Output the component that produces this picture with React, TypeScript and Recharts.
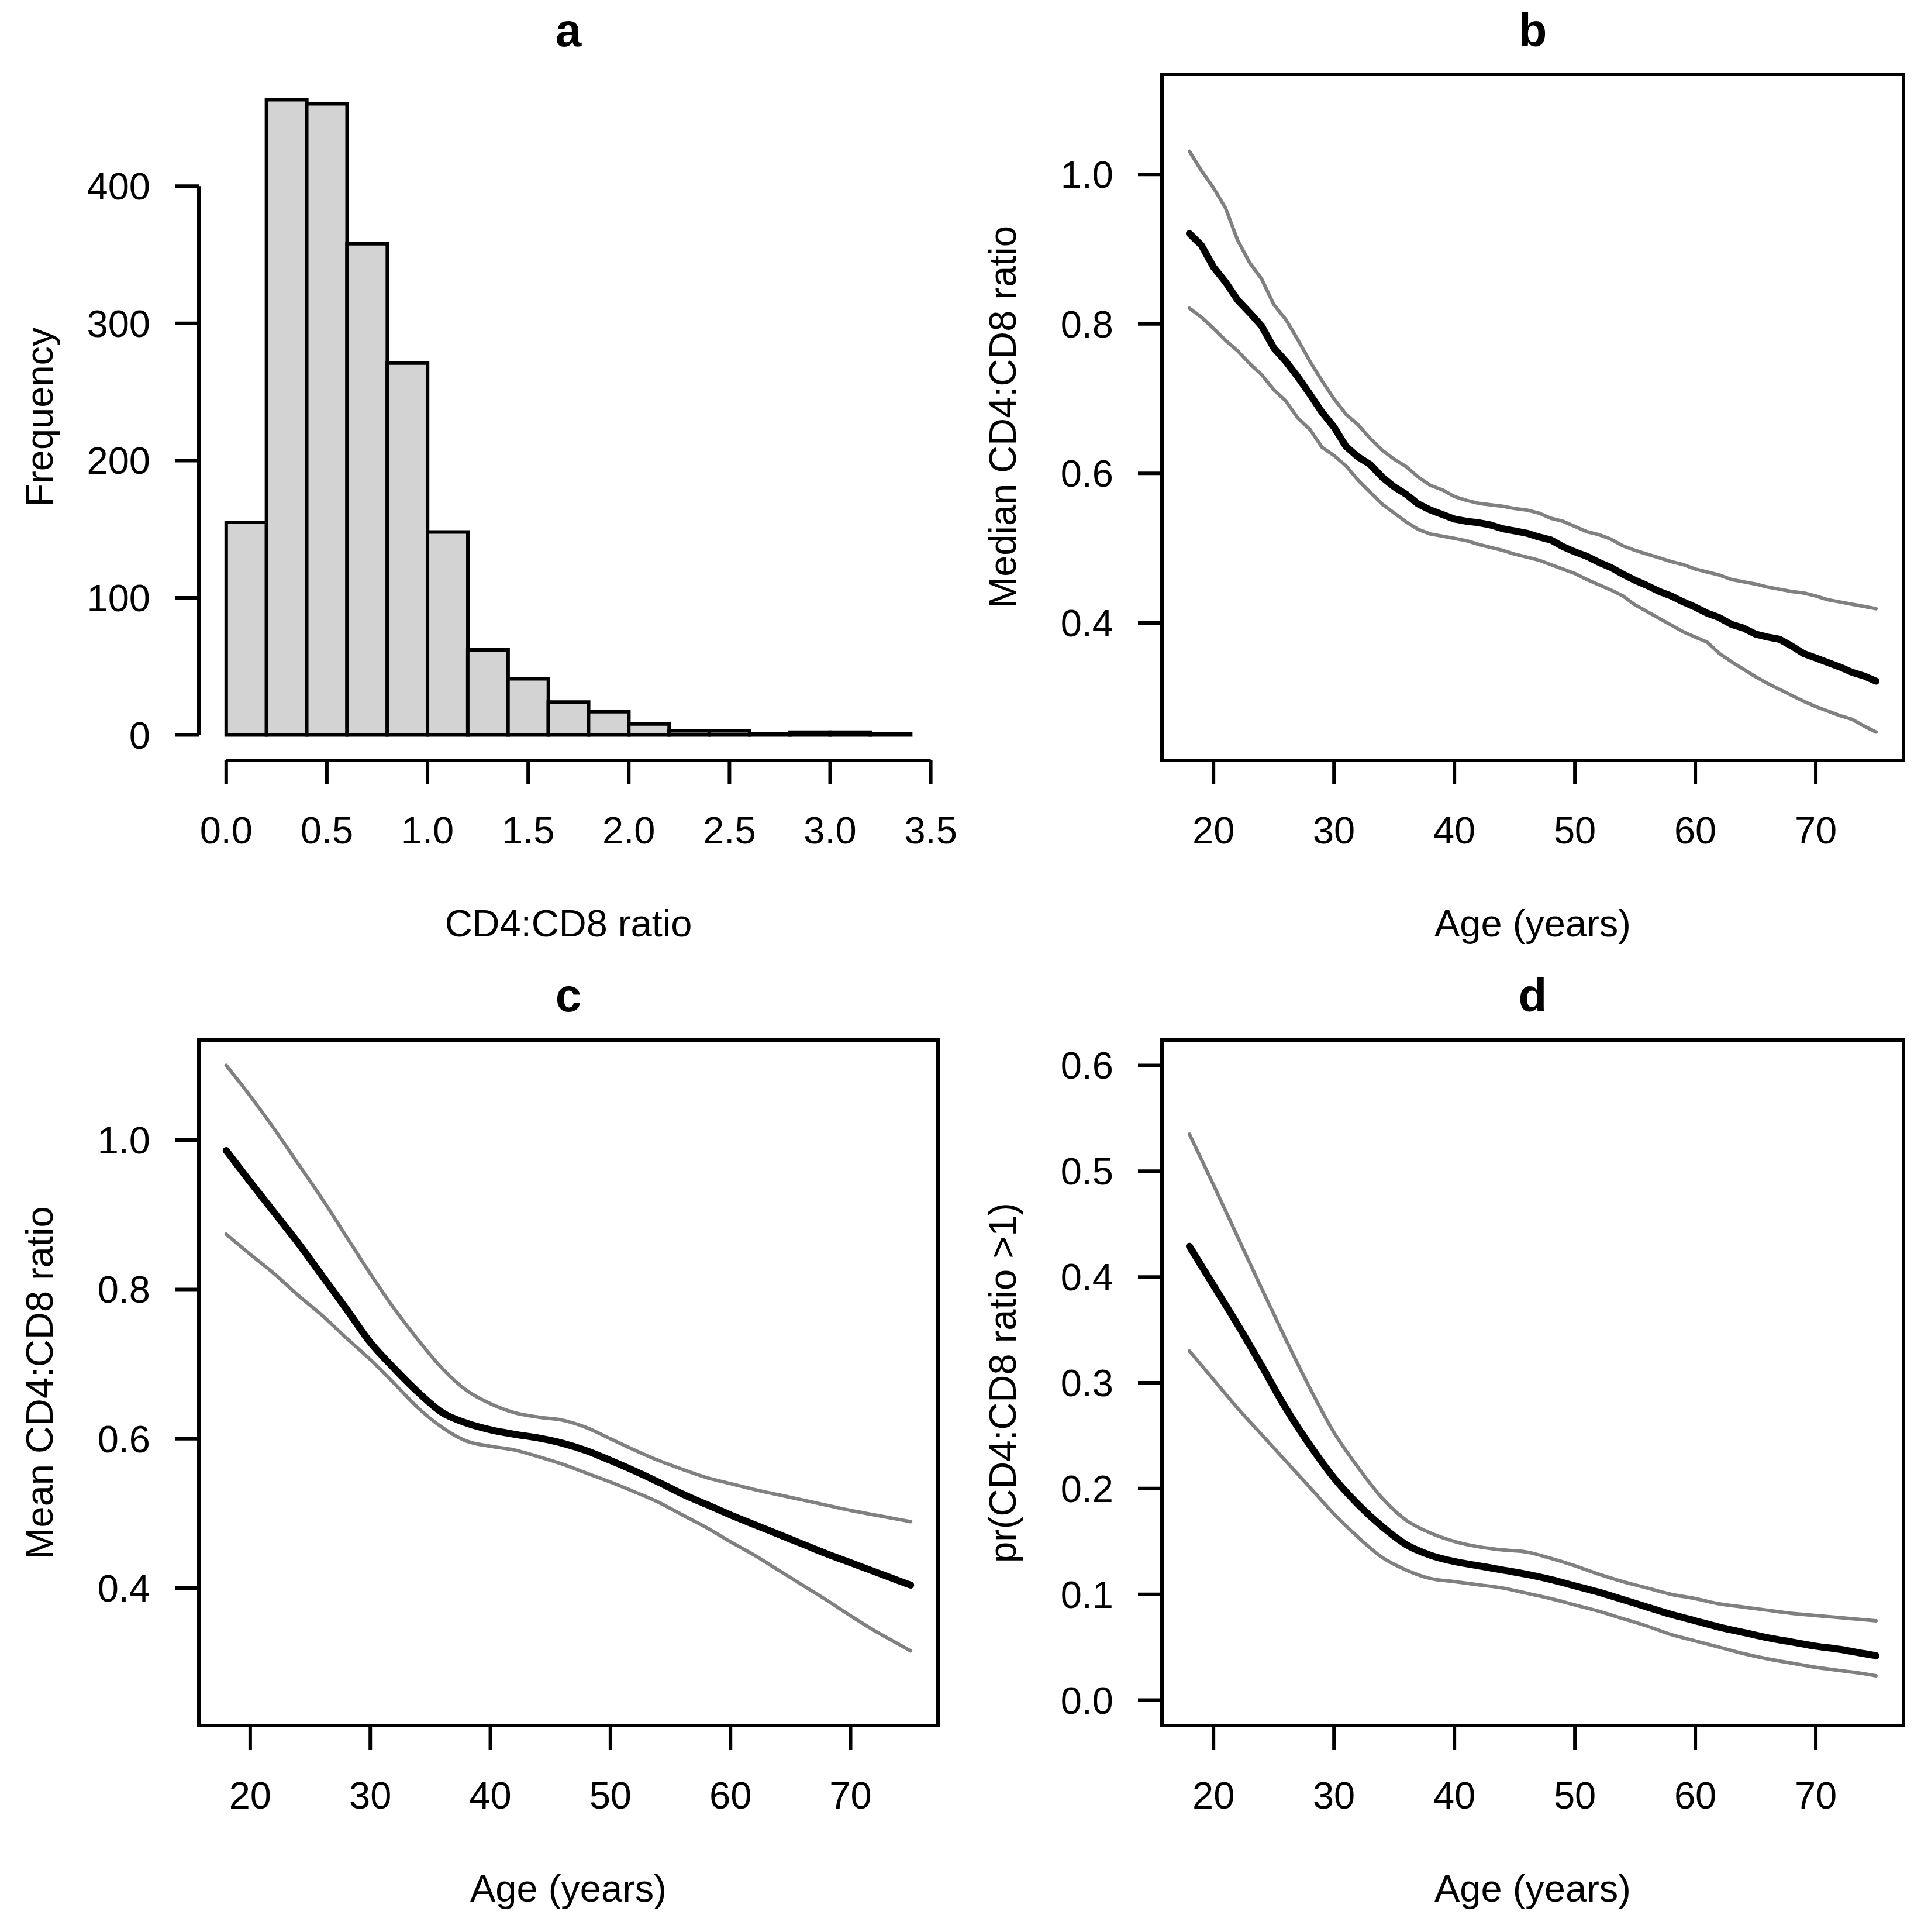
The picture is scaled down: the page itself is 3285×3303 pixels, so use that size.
import { ComposedChart, LineChart, Bar, Line, XAxis, YAxis, ReferenceLine, ReferenceArea } from "recharts"

const FONT = '"Liberation Sans", Arial, Helvetica, sans-serif'
const GREY = "#808080"
const HIST_FILL = "#D3D3D3"

// ---- panel a: histogram of CD4:CD8 ratio (bins of width 0.2)
const binStarts = [0, 0.2, 0.4, 0.6, 0.8, 1.0, 1.2, 1.4, 1.6, 1.8, 2.0, 2.2, 2.4, 2.6, 2.8, 3.0, 3.2]
const binCounts = [155, 463, 460, 358, 271, 148, 62, 41, 24, 17, 8, 3, 3, 1, 2, 2, 1]
const ratioTicks = [0, 0.5, 1, 1.5, 2, 2.5, 3, 3.5]
const freqTicks = [0, 100, 200, 300, 400]

// ---- panel b: median ratio by age (quantile regression), with bounds
const ageB = [18, 19, 20, 21, 22, 23, 24, 25, 26, 27, 28, 29, 30, 31, 32, 33, 34, 35, 36, 37, 38, 39, 40, 41, 42, 43, 44, 45, 46, 47, 48, 49, 50, 51, 52, 53, 54, 55, 56, 57, 58, 59, 60, 61, 62, 63, 64, 65, 66, 67, 68, 69, 70, 71, 72, 73, 74, 75]
const medianB = [0.921, 0.905, 0.876, 0.856, 0.832, 0.815, 0.797, 0.768, 0.75, 0.729, 0.706, 0.682, 0.662, 0.636, 0.622, 0.612, 0.595, 0.582, 0.572, 0.559, 0.551, 0.545, 0.539, 0.536, 0.534, 0.531, 0.526, 0.523, 0.52, 0.515, 0.511, 0.502, 0.495, 0.489, 0.481, 0.474, 0.465, 0.457, 0.45, 0.442, 0.436, 0.428, 0.421, 0.413, 0.407, 0.398, 0.393, 0.385, 0.381, 0.378, 0.369, 0.359, 0.353, 0.347, 0.341, 0.334, 0.329, 0.322]
const medianBHi = [1.031, 1.005, 0.982, 0.955, 0.912, 0.882, 0.86, 0.826, 0.806, 0.779, 0.75, 0.724, 0.7, 0.679, 0.665, 0.647, 0.631, 0.619, 0.609, 0.595, 0.584, 0.578, 0.569, 0.564, 0.56, 0.558, 0.556, 0.553, 0.551, 0.547, 0.54, 0.536, 0.529, 0.522, 0.518, 0.512, 0.503, 0.497, 0.492, 0.487, 0.482, 0.478, 0.472, 0.468, 0.464, 0.458, 0.455, 0.452, 0.448, 0.445, 0.442, 0.44, 0.436, 0.431, 0.428, 0.425, 0.422, 0.419]
const medianBLo = [0.821, 0.809, 0.794, 0.778, 0.764, 0.747, 0.732, 0.712, 0.697, 0.674, 0.659, 0.635, 0.624, 0.61, 0.591, 0.575, 0.559, 0.547, 0.535, 0.525, 0.519, 0.516, 0.513, 0.51, 0.505, 0.501, 0.497, 0.492, 0.488, 0.484, 0.478, 0.472, 0.466, 0.458, 0.451, 0.444, 0.436, 0.424, 0.415, 0.406, 0.397, 0.388, 0.381, 0.374, 0.359, 0.348, 0.338, 0.328, 0.319, 0.311, 0.303, 0.295, 0.288, 0.282, 0.276, 0.271, 0.262, 0.254]

// ---- panels c and d: smooth fits by age
const ageCD = [18, 20, 22, 24, 26, 28, 30, 32, 34, 36, 38, 40, 42, 44, 46, 48, 50, 52, 54, 56, 58, 60, 62, 64, 66, 68, 70, 72, 74, 75]
const meanC = [0.986, 0.944, 0.903, 0.862, 0.818, 0.774, 0.729, 0.694, 0.662, 0.635, 0.621, 0.612, 0.606, 0.601, 0.594, 0.584, 0.571, 0.557, 0.542, 0.526, 0.512, 0.498, 0.485, 0.472, 0.459, 0.446, 0.434, 0.422, 0.41, 0.404]
const meanCHi = [1.1, 1.059, 1.015, 0.968, 0.921, 0.871, 0.821, 0.774, 0.732, 0.694, 0.665, 0.647, 0.635, 0.629, 0.625, 0.615, 0.6, 0.585, 0.571, 0.559, 0.548, 0.54, 0.532, 0.525, 0.518, 0.511, 0.504, 0.498, 0.492, 0.489]
const meanCLo = [0.874, 0.847, 0.821, 0.792, 0.765, 0.735, 0.706, 0.674, 0.641, 0.615, 0.597, 0.59, 0.585, 0.576, 0.566, 0.554, 0.542, 0.529, 0.515, 0.498, 0.481, 0.462, 0.444, 0.424, 0.404, 0.384, 0.363, 0.343, 0.325, 0.316]
const probD = [0.429, 0.392, 0.355, 0.316, 0.276, 0.241, 0.21, 0.185, 0.164, 0.147, 0.137, 0.131, 0.127, 0.123, 0.119, 0.114, 0.108, 0.102, 0.095, 0.088, 0.081, 0.075, 0.069, 0.064, 0.059, 0.055, 0.051, 0.048, 0.044, 0.042]
const probDHi = [0.535, 0.487, 0.438, 0.389, 0.341, 0.295, 0.253, 0.22, 0.191, 0.17, 0.158, 0.15, 0.145, 0.142, 0.14, 0.134, 0.127, 0.119, 0.112, 0.106, 0.1, 0.096, 0.091, 0.088, 0.085, 0.082, 0.08, 0.078, 0.076, 0.075]
const probDLo = [0.33, 0.303, 0.276, 0.251, 0.226, 0.201, 0.176, 0.154, 0.135, 0.123, 0.115, 0.112, 0.109, 0.106, 0.101, 0.096, 0.09, 0.084, 0.077, 0.07, 0.062, 0.056, 0.05, 0.044, 0.039, 0.035, 0.031, 0.028, 0.025, 0.023]

const ageTicks = [20, 30, 40, 50, 60, 70]
const ratioAxisTicks = [0.4, 0.6, 0.8, 1.0]
const probTicks = [0, 0.1, 0.2, 0.3, 0.4, 0.5, 0.6]

// R-style axis ranges (data range widened by 4% each side)
const RATIO_DOMAIN: [number, number] = [-0.136, 3.536]
const FREQ_DOMAIN: [number, number] = [-18.52, 481.52]
const AGE_DOMAIN: [number, number] = [15.72, 77.28]
const RATIO_Y_DOMAIN: [number, number] = [0.216, 1.134]
const PROB_DOMAIN: [number, number] = [-0.024, 0.624]

const CW = 1643
const CH = 1653
const Y_AXIS_W = 300
const X_AXIS_H = 250
const LW = 6

const tickText = { fill: "#000", fontSize: 65, fontFamily: FONT }
const tickLine = { stroke: "#000", strokeWidth: LW }

const histData = binStarts.map((start, i) => ({ bin: start.toFixed(1), start, count: binCounts[i] }))

const zip = (ages: number[], mid: number[], lo: number[], hi: number[]) =>
  ages.map((age, i) => ({ age, mid: mid[i], lo: lo[i], hi: hi[i] }))

const leftMargin = (top: number) => ({ top, left: 40, right: 39, bottom: 103 })
const rightMargin = (top: number) => ({ top, left: 45, right: 30, bottom: 103 })

function Histogram() {
  const m = leftMargin(127)
  const plotW = CW - m.left - m.right - Y_AXIS_W
  const perUnit = plotW / (RATIO_DOMAIN[1] - RATIO_DOMAIN[0])
  const padL = (0 - RATIO_DOMAIN[0]) * perUnit
  const padR = (RATIO_DOMAIN[1] - 3.4) * perUnit
  return (
    <div style={{ position: "absolute", left: 0, top: 0 }}>
      <ComposedChart width={CW} height={CH} data={histData} margin={m} barCategoryGap={0} barGap={0}>
        <XAxis
          xAxisId="ratio"
          dataKey="start"
          type="number"
          domain={RATIO_DOMAIN}
          allowDataOverflow
          ticks={ratioTicks}
          interval={0}
          height={X_AXIS_H}
          axisLine={false}
          tickSize={41}
          tickMargin={55}
          stroke="#000"
          tickLine={tickLine}
          tick={tickText}
          tickFormatter={(v: number) => v.toFixed(1)}
        />
        <XAxis xAxisId="bins" dataKey="bin" type="category" hide height={0} padding={{ left: padL, right: padR }} />
        <YAxis
          type="number"
          domain={FREQ_DOMAIN}
          allowDataOverflow
          ticks={freqTicks}
          interval={0}
          width={Y_AXIS_W}
          axisLine={false}
          tickSize={41}
          tickMargin={42}
          stroke="#000"
          tickLine={tickLine}
          tick={tickText}
        />
        <Bar xAxisId="bins" dataKey="count" fill={HIST_FILL} stroke="#000" strokeWidth={LW} isAnimationActive={false} />
        <ReferenceLine
          xAxisId="ratio"
          segment={[{ x: RATIO_DOMAIN[0], y: 0 }, { x: RATIO_DOMAIN[0], y: 400 }]}
          stroke="#000"
          strokeWidth={LW}
          ifOverflow="visible"
        />
        <ReferenceLine
          xAxisId="ratio"
          segment={[{ x: 0, y: FREQ_DOMAIN[0] }, { x: 3.5, y: FREQ_DOMAIN[0] }]}
          stroke="#000"
          strokeWidth={LW}
          ifOverflow="visible"
        />
      </ComposedChart>
    </div>
  )
}

interface CurveProps {
  left: number
  top: number
  margin: { top: number; left: number; right: number; bottom: number }
  data: { age: number; mid: number; lo: number; hi: number }[]
  yDomain: [number, number]
  yTicks: number[]
  curve: "linear" | "monotone"
}

function CurvePanel({ left, top, margin, data, yDomain, yTicks, curve }: CurveProps) {
  return (
    <div style={{ position: "absolute", left, top }}>
      <LineChart width={CW} height={CH} data={data} margin={margin}>
        <XAxis
          dataKey="age"
          type="number"
          domain={AGE_DOMAIN}
          allowDataOverflow
          ticks={ageTicks}
          interval={0}
          height={X_AXIS_H}
          axisLine={false}
          tickSize={41}
          tickMargin={55}
          stroke="#000"
          tickLine={tickLine}
          tick={tickText}
        />
        <YAxis
          type="number"
          domain={yDomain}
          allowDataOverflow
          ticks={yTicks}
          interval={0}
          width={Y_AXIS_W}
          axisLine={false}
          tickSize={41}
          tickMargin={42}
          stroke="#000"
          tickLine={tickLine}
          tick={tickText}
          tickFormatter={(v: number) => v.toFixed(1)}
        />
        <ReferenceArea
          x1={AGE_DOMAIN[0]}
          x2={AGE_DOMAIN[1]}
          y1={yDomain[0]}
          y2={yDomain[1]}
          fill="none"
          fillOpacity={0}
          stroke="#000"
          strokeWidth={LW}
          ifOverflow="visible"
        />
        <Line dataKey="hi" type={curve} stroke={GREY} strokeWidth={LW} dot={false} activeDot={false} strokeLinejoin="round" strokeLinecap="round" isAnimationActive={false} />
        <Line dataKey="lo" type={curve} stroke={GREY} strokeWidth={LW} dot={false} activeDot={false} strokeLinejoin="round" strokeLinecap="round" isAnimationActive={false} />
        <Line dataKey="mid" type={curve} stroke="#000" strokeWidth={12} dot={false} activeDot={false} strokeLinejoin="round" strokeLinecap="round" isAnimationActive={false} />
      </LineChart>
    </div>
  )
}

function Labels() {
  const common = { fontFamily: FONT, fill: "#000" }
  const leftMid = 972
  const rightMid = 2621
  return (
    <svg width={3285} height={3303} style={{ position: "absolute", left: 0, top: 0, pointerEvents: "none" }}>
      <text x={leftMid} y={79} textAnchor="middle" fontSize={80} fontWeight="bold" {...common}>a</text>
      <text x={rightMid} y={79} textAnchor="middle" fontSize={80} fontWeight="bold" {...common}>b</text>
      <text x={leftMid} y={1729} textAnchor="middle" fontSize={80} fontWeight="bold" {...common}>c</text>
      <text x={rightMid} y={1729} textAnchor="middle" fontSize={80} fontWeight="bold" {...common}>d</text>

      <text x={leftMid} y={1601} textAnchor="middle" fontSize={65} {...common}>CD4:CD8 ratio</text>
      <text x={rightMid} y={1601} textAnchor="middle" fontSize={65} {...common}>Age (years)</text>
      <text x={leftMid} y={3251} textAnchor="middle" fontSize={65} {...common}>Age (years)</text>
      <text x={rightMid} y={3251} textAnchor="middle" fontSize={65} {...common}>Age (years)</text>

      <text transform="translate(90,713) rotate(-90)" textAnchor="middle" fontSize={65} {...common}>Frequency</text>
      <text transform="translate(1737,713) rotate(-90)" textAnchor="middle" fontSize={65} {...common}>Median CD4:CD8 ratio</text>
      <text transform="translate(90,2364) rotate(-90)" textAnchor="middle" fontSize={65} {...common}>Mean CD4:CD8 ratio</text>
      <text transform="translate(1737,2364) rotate(-90)" textAnchor="middle" fontSize={65} {...common}>pr(CD4:CD8 ratio &gt;1)</text>
    </svg>
  )
}

export default function App() {
  return (
    <div style={{ position: "absolute", left: 0, top: 0, width: 3285, height: 3303, background: "#fff", fontFamily: FONT }}>
      <Histogram />
      <CurvePanel left={1642} top={0} margin={rightMargin(127)} data={zip(ageB, medianB, medianBLo, medianBHi)} yDomain={RATIO_Y_DOMAIN} yTicks={ratioAxisTicks} curve="linear" />
      <CurvePanel left={0} top={1650} margin={leftMargin(128)} data={zip(ageCD, meanC, meanCLo, meanCHi)} yDomain={RATIO_Y_DOMAIN} yTicks={ratioAxisTicks} curve="monotone" />
      <CurvePanel left={1642} top={1650} margin={rightMargin(128)} data={zip(ageCD, probD, probDLo, probDHi)} yDomain={PROB_DOMAIN} yTicks={probTicks} curve="monotone" />
      <Labels />
    </div>
  )
}
